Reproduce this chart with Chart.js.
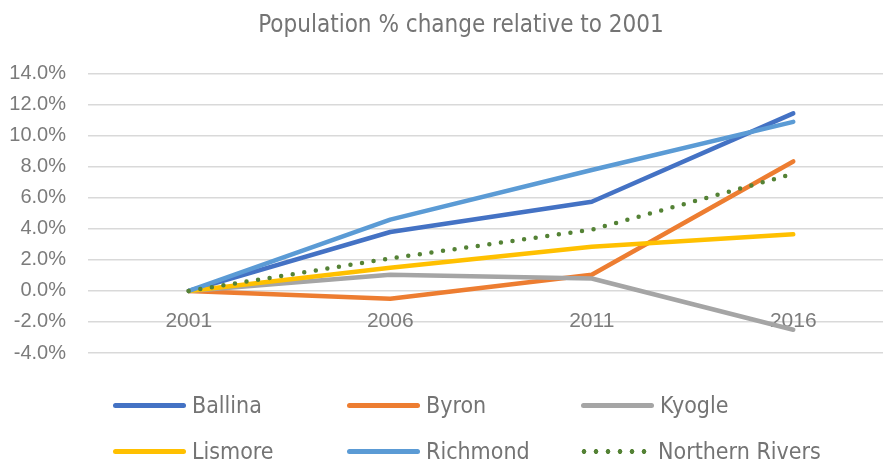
<!DOCTYPE html>
<html>
<head>
<meta charset="utf-8">
<script src="https://cdn.jsdelivr.net/npm/chart.js@4"></script>
<style>
  html, body { margin: 0; padding: 0; background: #fff; overflow: hidden; width: 883px; height: 462px; }
  #wrap { position: absolute; left: 0; top: 0; width: 900px; height: 462px; }
  #legend { position: absolute; left: 0; top: 0; width: 883px; height: 462px; pointer-events: none; }
  .item { position: absolute; display: flex; align-items: center; height: 30px;
          font-family: 'DejaVu Sans Condensed', 'Liberation Sans Narrow', sans-serif; font-size: 23px; color: #747474; }
  .swatch { width: 73px; height: 5px; border-radius: 3px; margin-right: 6px; }
  .dots { width: 66px; height: 5px; margin-right: 11px;
          background-image: radial-gradient(circle, var(--c) 2.3px, transparent 2.6px);
          background-size: 12px 5px; background-repeat: repeat-x; background-position: -3px 0; }
</style>
</head>
<body>
<div id="wrap"><canvas id="c"></canvas></div>
<div id="legend"></div>
<script>
const categories = ['2001', '2006', '2011', '2016'];
const seriesNames = ['Ballina', 'Byron', 'Kyogle', 'Lismore', 'Richmond', 'Northern Rivers'];
const ballina = [0, 3.8, 5.75, 11.45];
const byron = [0, -0.5, 1.05, 8.35];
const kyogle = [0, 1.05, 0.8, -2.5];
const lismore = [0, 1.5, 2.85, 3.65];
const richmond = [0, 4.6, 7.8, 10.9];
const northernRivers = [0, 2.1, 3.95, 7.55];
const yTicks = [-4, -2, 0, 2, 4, 6, 8, 10, 12, 14];
const colors = ['#4472C4', '#ED7D31', '#A5A5A5', '#FFC000', '#5B9BD5', '#548235'];

const seriesValues = [ballina, byron, kyogle, lismore, richmond, northernRivers];

const datasets = seriesValues.map((vals, i) => ({
  label: seriesNames[i],
  data: vals,
  borderColor: colors[i],
  backgroundColor: colors[i],
  borderWidth: 4.5,
  borderCapStyle: 'round',
  borderJoinStyle: 'round',
  borderDash: seriesNames[i] === 'Northern Rivers' ? [0, 11.7] : [],
  pointRadius: 0,
  pointHoverRadius: 0,
  tension: 0,
  fill: false,
  order: seriesValues.length - 1 - i
}));

const greyText = '#7b7b7b';

// Excel centres the title slightly right of the canvas centre
const titleShift = {
  id: 'titleShift',
  afterLayout(chart) {
    if (chart.titleBlock) chart.titleBlock.left += 28;
  }
};

new Chart(document.getElementById('c'), {
  type: 'line',
  data: { labels: categories, datasets },
  plugins: [titleShift],
  options: {
    responsive: true,
    maintainAspectRatio: false,
    animation: false,
    layout: { padding: { left: 0, right: 6, top: 0, bottom: 109 } },
    plugins: {
      legend: { display: false },
      tooltip: { enabled: false },
      title: {
        display: true,
        text: 'Population % change relative to 2001',
        color: '#747474',
        font: { family: "'DejaVu Sans Condensed', 'Liberation Sans Narrow', sans-serif", size: 24, weight: 'normal', lineHeight: 1.2 },
        padding: { top: 11, bottom: 34 }
      }
    },
    scales: {
      x: {
        type: 'category',
        position: { y: 0 },
        offset: true,
        grid: { display: false, drawTicks: false },
        border: { display: false },
        ticks: {
          color: greyText,
          padding: 18,
          maxRotation: 0,
          font: { family: "'Liberation Sans', Arial, sans-serif", size: 21 }
        }
      },
      y: {
        min: -4,
        max: 14,
        afterFit: (s) => { s.width = 88; },
        afterBuildTicks: (s) => { s.ticks = yTicks.map(v => ({ value: v })); },
        grid: { color: '#d9d9d9', lineWidth: 1.6, drawTicks: false },
        border: { display: false },
        ticks: {
          color: greyText,
          padding: 22,
          font: { family: "'Liberation Sans', Arial, sans-serif", size: 20 },
          callback: (v) => Number(v).toFixed(1) + '%'
        }
      }
    }
  }
});

// Legend built from the same series names and colours
const legend = document.getElementById('legend');
const colLeft = [113, 347, 581];
const rowTop = [390, 436];
seriesNames.forEach((name, i) => {
  const item = document.createElement('div');
  item.className = 'item';
  item.style.left = colLeft[i % 3] + 'px';
  item.style.top = rowTop[Math.floor(i / 3)] + 'px';
  const sw = document.createElement('div');
  if (name === 'Northern Rivers') {
    sw.className = 'dots';
    sw.style.setProperty('--c', colors[i]);
  } else {
    sw.className = 'swatch';
    sw.style.background = colors[i];
  }
  const t = document.createElement('span');
  t.textContent = name;
  item.appendChild(sw);
  item.appendChild(t);
  legend.appendChild(item);
});
</script>
</body>
</html>
